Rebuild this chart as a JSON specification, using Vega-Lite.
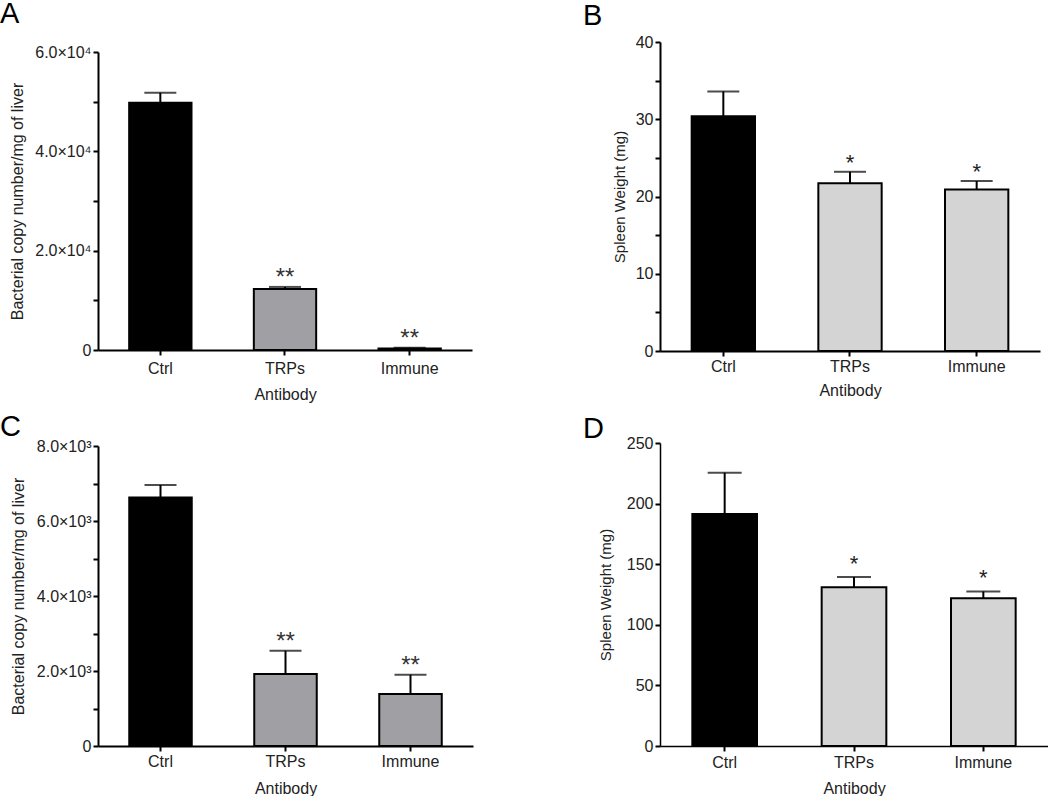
{
  "$schema": "https://vega.github.io/schema/vega-lite/v6.json",
  "background": "white",
  "padding": {"left": 0, "top": 0, "right": 0, "bottom": 0},
  "config": {
    "view": {"stroke": null},
    "font": "Liberation Sans",
    "axis": {
      "grid": false,
      "domainColor": "black",
      "domainWidth": 2,
      "tickColor": "black",
      "tickWidth": 2,
      "tickSize": 5,
      "labelFont": "Liberation Sans",
      "labelFontSize": 16,
      "labelColor": "#222",
      "titleFont": "Liberation Sans",
      "titleFontSize": 16,
      "titleFontWeight": "normal",
      "titleColor": "#222"
    },
    "title": {"font": "Liberation Sans", "fontSize": 29, "fontWeight": "normal", "color": "black", "anchor": "start", "frame": "group", "baseline": "alphabetic"}
  },
  "datasets": {
    "A": [
      {"group": "Ctrl", "mean": 49800, "upper": 51800, "sig": ""},
      {"group": "TRPs", "mean": 12300, "upper": 12700, "sig": "**"},
      {"group": "Immune", "mean": 300, "upper": 450, "sig": "**"}
    ],
    "B": [
      {"group": "Ctrl", "mean": 30.4, "upper": 33.6, "sig": ""},
      {"group": "TRPs", "mean": 21.7, "upper": 23.2, "sig": "*"},
      {"group": "Immune", "mean": 20.9, "upper": 22.0, "sig": "*"}
    ],
    "C": [
      {"group": "Ctrl", "mean": 6630, "upper": 6960, "sig": ""},
      {"group": "TRPs", "mean": 1920, "upper": 2540, "sig": "**"},
      {"group": "Immune", "mean": 1390, "upper": 1900, "sig": "**"}
    ],
    "D": [
      {"group": "Ctrl", "mean": 191.5, "upper": 225.5, "sig": ""},
      {"group": "TRPs", "mean": 131, "upper": 139.5, "sig": "*"},
      {"group": "Immune", "mean": 122, "upper": 127.5, "sig": "*"}
    ]
  },
  "spacing": 110,
  "resolve": {"scale": {"x": "independent", "y": "independent"}},
  "hconcat": [
    {
      "spacing": 11,
      "resolve": {"scale": {"x": "independent", "y": "independent"}},
      "vconcat": [
        {
          "width": 374,
          "height": 308,
          "title": {"text": "A", "dx": -98, "offset": 13},
          "data": {"name": "A"},
          "encoding": {
            "x": {"field": "group", "type": "nominal", "sort": ["Ctrl", "TRPs", "Immune"], "scale": {"paddingInner": 0.5, "paddingOuter": 0.25}, "axis": {"title": "Antibody", "labelAngle": 0, "labelPadding": 5, "titlePadding": 10}},
            "y": {"field": "mean", "type": "quantitative", "scale": {"domain": [0, 60000], "range": [308, 10], "nice": false}, "axis": {"title": "Bacterial copy number/mg of liver", "values": [0, 10000, 20000, 30000, 40000, 50000, 60000], "labelExpr": "datum.value == 0 ? '0' : (datum.value % 20000 == 0 ? format(datum.value / 10000, '.1f') + '×10⁴' : '')", "labelPadding": 2, "titlePadding": 9}}
          },
          "layer": [
            {"mark": {"type": "bar", "stroke": "black", "strokeWidth": 2}, "encoding": {"color": {"condition": {"test": "datum.group == 'Ctrl'", "value": "#000000"}, "value": "#a0a0a4"}}},
            {"mark": {"type": "rule", "color": "black", "strokeWidth": 2}, "encoding": {"y2": {"field": "upper"}}},
            {"mark": {"type": "tick", "color": "black", "size": 32, "thickness": 2}, "encoding": {"y": {"field": "upper", "type": "quantitative", "scale": {"domain": [0, 60000], "range": [308, 10], "nice": false}, "axis": {"title": "Bacterial copy number/mg of liver", "values": [0, 10000, 20000, 30000, 40000, 50000, 60000], "labelExpr": "datum.value == 0 ? '0' : (datum.value % 20000 == 0 ? format(datum.value / 10000, '.1f') + '×10⁴' : '')", "labelPadding": 2, "titlePadding": 9}}}},
            {"transform": [{"filter": "datum.sig != ''"}], "mark": {"type": "text", "fontSize": 24, "color": "#333", "baseline": "alphabetic", "dy": -2}, "encoding": {"text": {"field": "sig"}, "y": {"field": "upper", "type": "quantitative", "scale": {"domain": [0, 60000], "range": [308, 10], "nice": false}, "axis": {"title": "Bacterial copy number/mg of liver", "values": [0, 10000, 20000, 30000, 40000, 50000, 60000], "labelExpr": "datum.value == 0 ? '0' : (datum.value % 20000 == 0 ? format(datum.value / 10000, '.1f') + '×10⁴' : '')", "labelPadding": 2, "titlePadding": 9}}}}
          ]
        },
        {
          "width": 375,
          "height": 300,
          "title": {"text": "C", "dx": -98, "offset": -4},
          "data": {"name": "C"},
          "encoding": {
            "x": {"field": "group", "type": "nominal", "sort": ["Ctrl", "TRPs", "Immune"], "scale": {"paddingInner": 0.5, "paddingOuter": 0.25}, "axis": {"title": "Antibody", "labelAngle": 0, "labelPadding": 2, "titlePadding": 11}},
            "y": {"field": "mean", "type": "quantitative", "scale": {"domain": [0, 8000], "nice": false}, "axis": {"title": "Bacterial copy number/mg of liver", "values": [0, 1000, 2000, 3000, 4000, 5000, 6000, 7000, 8000], "labelExpr": "datum.value == 0 ? '0' : (datum.value % 2000 == 0 ? format(datum.value / 1000, '.1f') + '×10³' : '')", "labelPadding": 2, "titlePadding": 10}}
          },
          "layer": [
            {"mark": {"type": "bar", "stroke": "black", "strokeWidth": 2}, "encoding": {"color": {"condition": {"test": "datum.group == 'Ctrl'", "value": "#000000"}, "value": "#a0a0a4"}}},
            {"mark": {"type": "rule", "color": "black", "strokeWidth": 2}, "encoding": {"y2": {"field": "upper"}}},
            {"mark": {"type": "tick", "color": "black", "size": 32, "thickness": 2}, "encoding": {"y": {"field": "upper", "type": "quantitative", "scale": {"domain": [0, 8000], "nice": false}, "axis": {"title": "Bacterial copy number/mg of liver", "values": [0, 1000, 2000, 3000, 4000, 5000, 6000, 7000, 8000], "labelExpr": "datum.value == 0 ? '0' : (datum.value % 2000 == 0 ? format(datum.value / 1000, '.1f') + '×10³' : '')", "labelPadding": 2, "titlePadding": 10}}}},
            {"transform": [{"filter": "datum.sig != ''"}], "mark": {"type": "text", "fontSize": 24, "color": "#333", "baseline": "alphabetic", "dy": -2}, "encoding": {"text": {"field": "sig"}, "y": {"field": "upper", "type": "quantitative", "scale": {"domain": [0, 8000], "nice": false}, "axis": {"title": "Bacterial copy number/mg of liver", "values": [0, 1000, 2000, 3000, 4000, 5000, 6000, 7000, 8000], "labelExpr": "datum.value == 0 ? '0' : (datum.value % 2000 == 0 ? format(datum.value / 1000, '.1f') + '×10³' : '')", "labelPadding": 2, "titlePadding": 10}}}}
          ]
        }
      ]
    },
    {
      "spacing": 17,
      "resolve": {"scale": {"x": "independent", "y": "independent"}},
      "vconcat": [
        {
          "width": 380,
          "height": 309,
          "title": {"text": "B", "dx": -77, "offset": 3},
          "data": {"name": "B"},
          "encoding": {
            "x": {"field": "group", "type": "nominal", "sort": ["Ctrl", "TRPs", "Immune"], "scale": {"paddingInner": 0.5, "paddingOuter": 0.25}, "axis": {"title": "Antibody", "labelAngle": 0, "labelPadding": 2, "titlePadding": 8}},
            "y": {"field": "mean", "type": "quantitative", "scale": {"domain": [0, 40], "nice": false}, "axis": {"title": "Spleen Weight (mg)", "titleFontSize": 15, "values": [0, 5, 10, 15, 20, 25, 30, 35, 40], "labelExpr": "datum.value % 10 == 0 ? datum.label : ''", "labelPadding": 2, "titlePadding": 8}}
          },
          "layer": [
            {"mark": {"type": "bar", "stroke": "black", "strokeWidth": 2}, "encoding": {"color": {"condition": {"test": "datum.group == 'Ctrl'", "value": "#000000"}, "value": "#d4d4d4"}}},
            {"mark": {"type": "rule", "color": "black", "strokeWidth": 2}, "encoding": {"y2": {"field": "upper"}}},
            {"mark": {"type": "tick", "color": "black", "size": 32, "thickness": 2}, "encoding": {"y": {"field": "upper", "type": "quantitative", "scale": {"domain": [0, 40], "nice": false}, "axis": {"title": "Spleen Weight (mg)", "titleFontSize": 15, "values": [0, 5, 10, 15, 20, 25, 30, 35, 40], "labelExpr": "datum.value % 10 == 0 ? datum.label : ''", "labelPadding": 2, "titlePadding": 8}}}},
            {"transform": [{"filter": "datum.sig != ''"}], "mark": {"type": "text", "fontSize": 22, "color": "#222", "baseline": "alphabetic", "dy": -2}, "encoding": {"text": {"field": "sig"}, "y": {"field": "upper", "type": "quantitative", "scale": {"domain": [0, 40], "nice": false}, "axis": {"title": "Spleen Weight (mg)", "titleFontSize": 15, "values": [0, 5, 10, 15, 20, 25, 30, 35, 40], "labelExpr": "datum.value % 10 == 0 ? datum.label : ''", "labelPadding": 2, "titlePadding": 8}}}}
          ]
        },
        {
          "width": 388,
          "height": 303,
          "title": {"text": "D", "dx": -77, "offset": -9},
          "data": {"name": "D"},
          "encoding": {
            "x": {"field": "group", "type": "nominal", "sort": ["Ctrl", "TRPs", "Immune"], "scale": {"paddingInner": 0.5, "paddingOuter": 0.25}, "axis": {"title": "Antibody", "labelAngle": 0, "labelPadding": 3, "titlePadding": 10, "domainWidth": 1.5}},
            "y": {"field": "mean", "type": "quantitative", "scale": {"domain": [0, 250], "nice": false}, "axis": {"title": "Spleen Weight (mg)", "titleFontSize": 15, "values": [0, 50, 100, 150, 200, 250], "labelPadding": 2, "titlePadding": 13, "domainWidth": 1.5}}
          },
          "layer": [
            {"mark": {"type": "bar", "stroke": "black", "strokeWidth": 2}, "encoding": {"color": {"condition": {"test": "datum.group == 'Ctrl'", "value": "#000000"}, "value": "#d4d4d4"}}},
            {"mark": {"type": "rule", "color": "black", "strokeWidth": 2}, "encoding": {"y2": {"field": "upper"}}},
            {"mark": {"type": "tick", "color": "black", "size": 34, "thickness": 2}, "encoding": {"y": {"field": "upper", "type": "quantitative", "scale": {"domain": [0, 250], "nice": false}, "axis": {"title": "Spleen Weight (mg)", "titleFontSize": 15, "values": [0, 50, 100, 150, 200, 250], "labelPadding": 2, "titlePadding": 13, "domainWidth": 1.5}}}},
            {"transform": [{"filter": "datum.sig != ''"}], "mark": {"type": "text", "fontSize": 22, "color": "#222", "baseline": "alphabetic", "dy": -6}, "encoding": {"text": {"field": "sig"}, "y": {"field": "upper", "type": "quantitative", "scale": {"domain": [0, 250], "nice": false}, "axis": {"title": "Spleen Weight (mg)", "titleFontSize": 15, "values": [0, 50, 100, 150, 200, 250], "labelPadding": 2, "titlePadding": 13, "domainWidth": 1.5}}}}
          ]
        }
      ]
    }
  ]
}
